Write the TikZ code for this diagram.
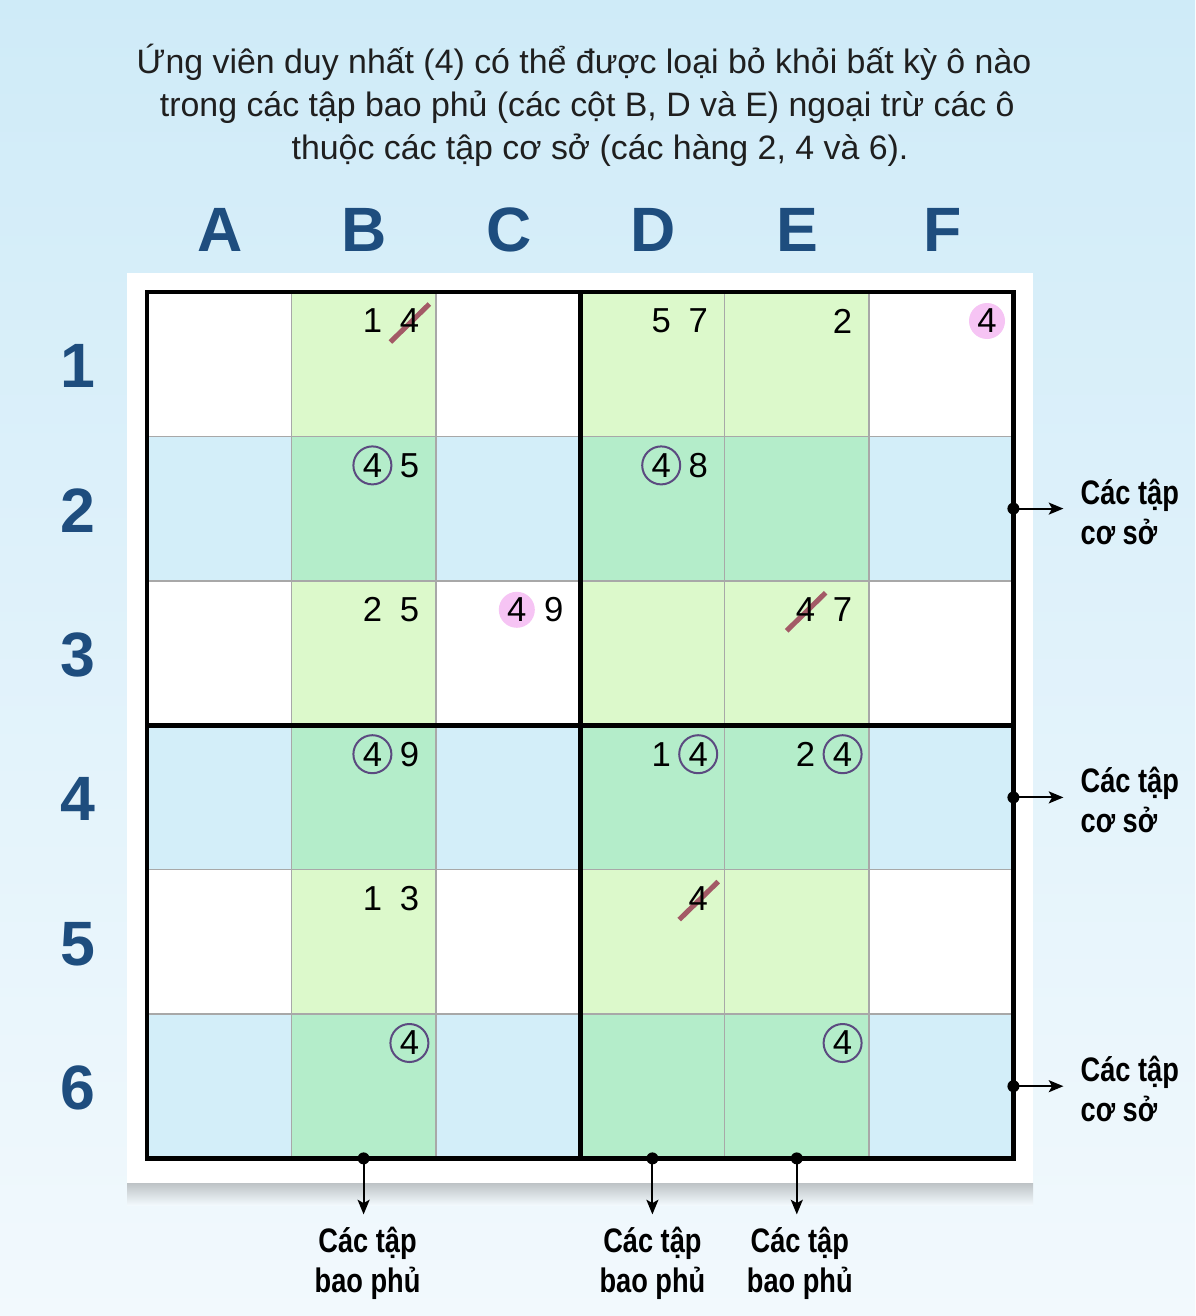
\documentclass[tikz,border=0pt]{standalone}
\usepackage{fontspec}
\setmainfont{Liberation Sans}
\newfontfamily\condfont{Liberation Sans}[FakeStretch=0.8]
\usepackage{tikz}
\usetikzlibrary{arrows.meta,calc,positioning}

\definecolor{bgtop}{HTML}{CFEBF8}
\definecolor{bgbot}{HTML}{F2F9FD}
\definecolor{shade0}{HTML}{FFFFFF}
\definecolor{shade1}{HTML}{DCF9CB}
\definecolor{shade2}{HTML}{D3EEF9}
\definecolor{shade3}{HTML}{B4EDCA}
\definecolor{gridgray}{HTML}{A8A8A8}
\definecolor{headblue}{HTML}{1E4D7E}
\definecolor{ringpurple}{HTML}{5B4A80}
\definecolor{strikered}{HTML}{A35A66}
\definecolor{finpink}{HTML}{F6C4F4}

\begin{document}
\begin{tikzpicture}[x=0.75pt,y=-0.75pt,>={Stealth[length=11pt,width=9pt,inset=2.5pt]},
    cell/.style={draw=gridgray,line width=1.2pt,minimum size=108.3pt,inner sep=0pt,outer sep=0pt},
    cand/.style={font=\fontsize{26}{26}\selectfont,inner sep=0pt},
    ring/.style={cand,circle,draw=ringpurple,line width=1.5pt,minimum size=28.5pt},
    fin/.style={cand,circle,fill=finpink,minimum size=27pt},
    cross/.style={strikered,line width=3.8pt},
    head/.style={font=\fontsize{47}{47}\selectfont\bfseries,text=headblue},
    setlabel/.style={font=\condfont\bfseries\fontsize{25.5}{30}\selectfont,inner sep=0pt},
    hook/.style={->,line width=1.5pt},
    dot/.style={circle,fill,inner sep=0pt,minimum size=9pt}]

  \useasboundingbox (0,0) rectangle (1195,1316);
  \shade[top color=bgtop,bottom color=bgbot] (0,0) rectangle (1195,1316);
  \shade[top color=black!22!bgbot,bottom color=bgbot] (127,1183) rectangle (1033,1205);
  \fill[white] (127,273) rectangle (1033,1183);

  \node[font=\fontsize{25.4}{32.25}\selectfont,align=center,text=black!88] (title) at (584,105)
    {Ứng viên duy nhất (4) có thể được loại bỏ khỏi bất kỳ ô nào\\
     \hspace*{5pt}trong các tập bao phủ (các cột B, D và E) ngoại trừ các ô\\
     \hspace*{24pt}thuộc các tập cơ sở (các hàng 2, 4 và 6).};

  \foreach \cl/\i/\k in {A/0/0,B/1/1,C/2/0,D/3/1,E/4/1,F/5/0}
    \foreach \rw/\b in {1/0,2/1,3/0,4/1,5/0,6/1}{
      \pgfmathtruncatemacro\t{\k+2*\b}
      \node[cell,fill=shade\t] (\cl\rw) at ({219.2+144.4*\i},{219.8+144.4*\rw}) {};
      \coordinate (\cl\rw-l) at ($(\cl\rw)+(8.8,-43.2)$);
      \coordinate (\cl\rw-r) at ($(\cl\rw)+(45.8,-43.2)$);
    }

  \draw[line width=3.5pt] (A1.north west) rectangle (F6.south east);
  \draw[line width=3.5pt] (D1.north west) -- (D6.south west)
                          (A4.north west) -- (F4.north east);

  \foreach \cl in {A,...,F}
    \node[head] (h\cl) at ($(\cl1)+(1,-134)$) {\cl};
  \foreach \rw in {1,...,6}
    \node[head] (n\rw) at ($(A\rw)+(-141,2)$) {\rw};

  \foreach \p in {B1-r,E3-l,D5-r}
    \draw[cross] ($(\p)+(-19,21)$) -- ($(\p)+(20,-17)$);
  \foreach \p/\v in {B1-l/1,B1-r/4,D1-l/5,D1-r/7,E1-r/2,B2-r/5,D2-r/8,B3-l/2,B3-r/5,
                     C3-r/9,E3-l/4,E3-r/7,B4-r/9,D4-l/1,E4-l/2,B5-l/1,B5-r/3,D5-r/4}
    \node[cand] (v\p) at (\p) {\v};
  \foreach \p in {B2-l,D2-l,B4-l,D4-r,E4-r,B6-r,E6-r}
    \node[ring] (o\p) at (\p) {4};
  \foreach \p in {F1-r,C3-l}
    \node[fin] (f\p) at (\p) {4};

  \foreach \rw in {2,4,6}{
    \node[dot] (d\rw) at (F\rw.east) {};
    \coordinate (e\rw) at ($(F\rw.east)+(50,0)$);
    \draw[hook] (d\rw.center) -- (e\rw);
    \node[setlabel,align=left,anchor=west] (s\rw) at ($(e\rw)+(17,3)$) {Các tập\\cơ sở};
  }
  \foreach \cl/\dx in {B/4,D/0,E/3}{
    \node[dot] (d\cl) at (\cl6.south) {};
    \coordinate (e\cl) at ($(\cl6.south)+(0,56)$);
    \draw[hook] (d\cl.center) -- (e\cl);
    \node[setlabel,align=center,below=9pt of e\cl,xshift=\dx*0.75pt] (s\cl) {Các tập\\bao phủ};
  }

\end{tikzpicture}
\end{document}
